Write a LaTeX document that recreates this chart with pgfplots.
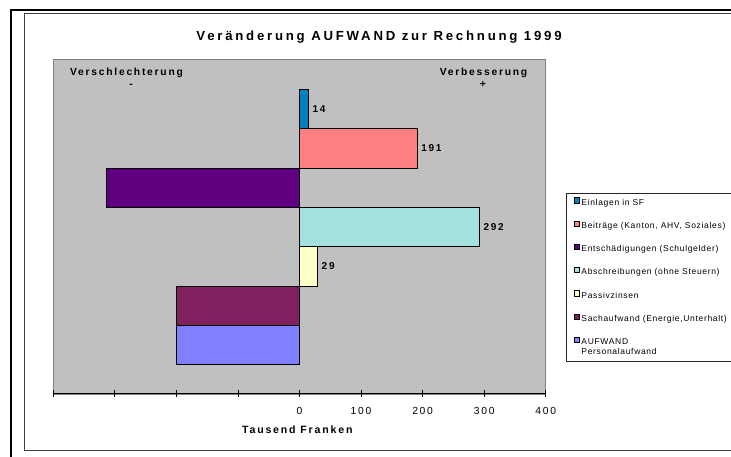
\documentclass[border=0pt]{standalone}
\usepackage{fontspec}
\setmainfont{Liberation Sans}
\newfontfamily\fT[LetterSpace=21]{Liberation Sans}
\newfontfamily\fB[LetterSpace=17]{Liberation Sans}
\newfontfamily\fL[LetterSpace=8]{Liberation Sans}
\usepackage{pgfplots}
\pgfplotsset{compat=1.18}
\definecolor{plotbg}{HTML}{C0C0C0}
\definecolor{cA}{HTML}{0080C0}
\definecolor{cB}{HTML}{FF8080}
\definecolor{cC}{HTML}{600080}
\definecolor{cD}{HTML}{A3E0E0}
\definecolor{cE}{HTML}{FFFFC8}
\definecolor{cF}{HTML}{80205F}
\definecolor{cG}{HTML}{8080FF}
\pgfplotsset{
  swatch/.style={legend image code/.code={\draw[##1, draw=black, line width=0.6pt] (0pt,0.2pt) rectangle (5.6pt,5.5pt);}},
}
\begin{document}
\begin{tikzpicture}[x=1pt,y=1pt]
\useasboundingbox (0,0) rectangle (731,457);
\clip (0,0) rectangle (731,457);
\fill[white] (0,0) rectangle (731,457);
\draw[black!75, line width=1pt] (24,443) rectangle (760,6);
\draw[black, line width=2pt] (11,-10) -- (11,447) -- (760,447);
\draw[black!85, line width=0.8pt] (566.7,263.7) rectangle (760,96);
\begin{axis}[
  at={(53.3pt,63pt)}, anchor=south west,
  scale only axis, width=492.4pt, height=335pt,
  xbar, bar width=1, bar shift=0pt,
  xmin=-400, xmax=400, ymin=-0.245, ymax=8.27,
  axis x line*=bottom, axis y line=none,
  axis background/.style={fill=plotbg, draw=gray, line width=0.8pt},
  x axis line style={black, line width=1pt},
  xtick={-400,-300,...,400},
  xticklabels={,,,,0,100,200,300,400},
  tick align=center, major tick length=7pt,
  xtick style={black, line width=0.8pt},
  ytick=\empty,
  xticklabel style={anchor=base, inner sep=0pt, yshift=-16.6pt, font=\fB\fontsize{10.3}{12}\selectfont},
  xlabel={Tausend Franken},
  xlabel style={at={(axis description cs:0.4955,-0.1075)}, anchor=center, font=\fB\bfseries\fontsize{10.6}{12}\selectfont},
  title={Veränderung AUFWAND zur Rechnung 1999},
  title style={at={(axis description cs:0.6615,1.0477)}, anchor=center, font=\fT\bfseries\fontsize{13.2}{15}\selectfont},
  point meta=x,
  /pgf/number format/assume math mode=true,
  nodes near coords style={font=\fB\bfseries\fontsize{10}{12}\selectfont, anchor=west, inner sep=0pt, xshift=4pt, text height=7.2pt, text depth=0pt},
  legend style={draw=none, fill=none, at={(1.0561,0.588)}, anchor=north west, inner sep=0pt, row sep=13.5pt, column sep=1.7pt,
    font=\fL\fontsize{8.5}{10}\selectfont, nodes={inner sep=0pt, text height=6pt, text depth=2pt}},
  legend cell align=left,
]
\addplot[fill=cA, draw=black, line width=0.8pt, swatch, nodes near coords] coordinates {(14,7)};
\addlegendentry{Einlagen in SF}
\addplot[fill=cB, draw=black, line width=0.8pt, swatch, nodes near coords] coordinates {(191,6)};
\addlegendentry{Beiträge (Kanton, AHV, Soziales)}
\addplot[fill=cC, draw=black, line width=0.8pt, swatch] coordinates {(-313,5)};
\addlegendentry{Entschädigungen (Schulgelder)}
\addplot[fill=cD, draw=black, line width=0.8pt, swatch, nodes near coords] coordinates {(292,4)};
\addlegendentry{Abschreibungen (ohne Steuern)}
\addplot[fill=cE, draw=black, line width=0.8pt, swatch, nodes near coords] coordinates {(29,3)};
\addlegendentry{Passivzinsen}
\addplot[fill=cF, draw=black, line width=0.8pt, swatch] coordinates {(-200,2)};
\addlegendentry{Sachaufwand (Energie,Unterhalt)}
\addplot[fill=cG, draw=black, line width=0.8pt, swatch] coordinates {(-200,1)};
\addlegendentry{\vtop{\baselineskip=9.5pt\hbox{AUFWAND}\hbox{Personalaufwand}}}
\end{axis}
\node[anchor=base, font=\fB\bfseries\fontsize{10.3}{12}\selectfont] at (126.5,381.7) {Verschlechterung};
\node[anchor=base, font=\fB\bfseries\fontsize{10.3}{12}\selectfont] at (131,369) {-};
\node[anchor=base, font=\fB\bfseries\fontsize{10.3}{12}\selectfont] at (483.5,381.7) {Verbesserung};
\node[anchor=base, font=\fB\bfseries\fontsize{10.3}{12}\selectfont] at (483,369) {+};
\end{tikzpicture}
\end{document}
